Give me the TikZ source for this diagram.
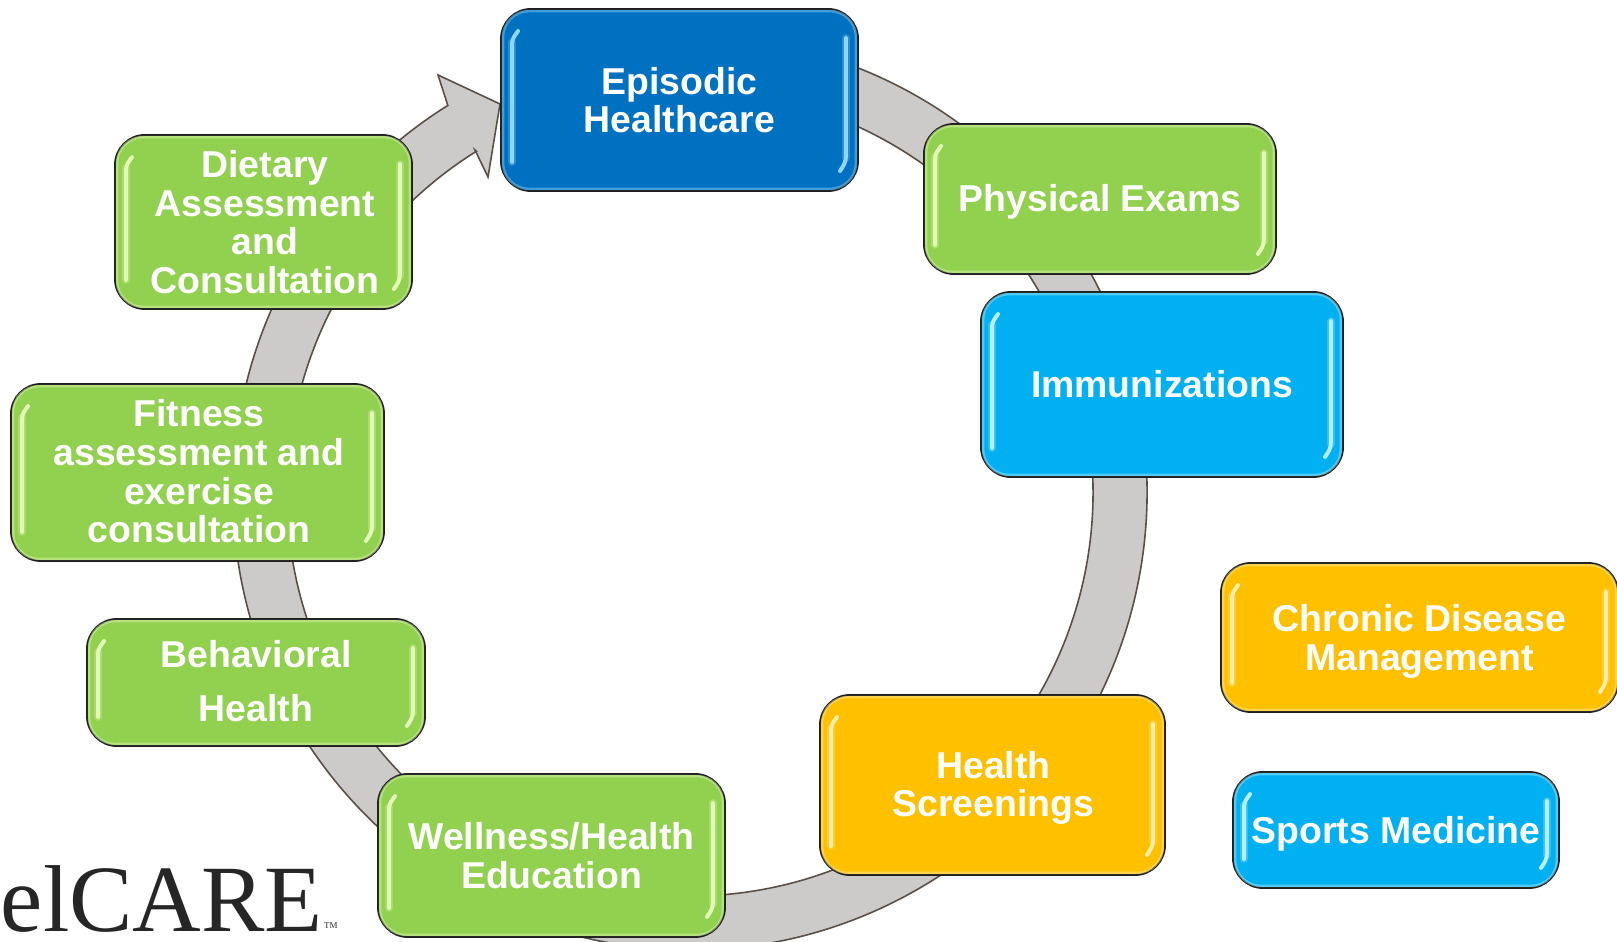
\documentclass[tikz,border=0pt]{standalone}
\usepackage{fontspec}
\setmainfont{Liberation Sans}
\newfontfamily\logofont{Liberation Serif}
\usetikzlibrary{calc}
\definecolor{ringfill}{HTML}{CDCBC9}
\definecolor{ringline}{HTML}{5A5048}
\definecolor{bluebox}{HTML}{0070C0}
\definecolor{bluelight}{HTML}{8FD6FF}
\definecolor{greenbox}{HTML}{92D050}
\definecolor{greenlight}{HTML}{E2F8B8}
\definecolor{cyanbox}{HTML}{00B0F0}
\definecolor{cyanlight}{HTML}{B4EEFF}
\definecolor{orangebox}{HTML}{FFC000}
\definecolor{orangelight}{HTML}{FFEDA8}
\tikzset{
  x=1pt,y=1pt,
  glossbox/.style={draw=black!88,line width=1.9pt,rounded corners=30pt,inner sep=0pt},
  glosstext/.style={align=center,text=white,inner sep=0pt,
    font=\fontsize{37.4}{38.6}\selectfont\bfseries},
  glossstrip/.style={line width=4pt,line cap=round},
  glosshalo/.style={line width=8pt,line cap=round,opacity=.28},
  bevel/.style={line width=2.5pt,rounded corners=26pt,opacity=.45},
  ringband/.style={fill=ringfill,draw=ringline,line width=1.6pt,line join=miter},
  logotext/.style={text=black!85,inner sep=0pt,font=\logofont\fontsize{95}{95}\selectfont},
  logomark/.style={text=black!82,inner sep=0pt,font=\logofont\fontsize{9}{9}\selectfont}
}
% #1 name, #2-#5 x1 y1 x2 y2 (image pixels, y down), #6 fill, #7 light, #8 text, #9 text offset
\newcommand{\glossnode}[9]{%
  \pgfmathsetmacro{\gcx}{(#2+#4)/2}%
  \pgfmathsetmacro{\gcy}{942-(#3+#5)/2}%
  \pgfmathsetmacro{\gw}{#4-#2}%
  \pgfmathsetmacro{\gh}{#5-#3}%
  \node[glossbox,fill=#6,minimum width=\gw pt,minimum height=\gh pt] (#1) at (\gcx,\gcy) {};
  \draw[bevel,draw=#7] ($(#1.south west)+(3,3)$) rectangle ($(#1.north east)+(-3,-3)$);
  \draw[glosshalo,draw=#7] ($(#1.south west)+(12,30)$) -- ($(#1.north west)+(12,-34)$);
  \draw[glosshalo,draw=#7] ($(#1.north east)+(-13,-30)$) -- ($(#1.south east)+(-13,34)$);
  \draw[glossstrip,draw=#7] ($(#1.south west)+(12,30)$) -- ($(#1.north west)+(12,-36)$)
     to[out=90,in=-125] ($(#1.north west)+(18,-23)$);
  \draw[glossstrip,draw=#7] ($(#1.north east)+(-13,-30)$) -- ($(#1.south east)+(-13,36)$)
     to[out=-90,in=55] ($(#1.south east)+(-19,21)$);
  \node[glosstext] (#1text) at ($(#1.center)+#9$) {#8};
}
\begin{document}
\begin{tikzpicture}
\useasboundingbox (0,0) rectangle (1617,942);
\clip (0,0) rectangle (1617,942);
\coordinate (ringc) at (690,449);
\coordinate (tip) at (500,838);
% ring with arrowhead
\draw[ringband] ($(ringc)+(80:457)$) arc[start angle=80,delta angle=-318,radius=457]
   -- (438,867) -- (tip) -- (488,765) -- (475,792)
   -- ($(ringc)+(122:403)$) arc[start angle=122,delta angle=318,radius=403] -- cycle;
% logo
\node[logotext,anchor=base east] (logo) at (323,10) {elCARE};
\node[logomark,anchor=base west] (tm) at (324,13) {TM};
% boxes
\glossnode{episodic}{501}{9}{858}{191}{bluebox}{bluelight}{Episodic\\Healthcare}{(0,0)}
\glossnode{physical}{924}{124}{1276}{274}{greenbox}{greenlight}{Physical Exams}{(0,-3)}
\glossnode{immun}{981}{292}{1343}{477}{cyanbox}{cyanlight}{Immunizations}{(0,0)}
\glossnode{chronic}{1221}{563}{1618}{712}{orangebox}{orangelight}{Chronic Disease\\Management}{(0,-4)}
\glossnode{sports}{1233}{772}{1559}{888}{cyanbox}{cyanlight}{Sports Medicine}{(0,-4)}
\glossnode{screen}{820}{695}{1165}{875}{orangebox}{orangelight}{Health\\Screenings}{(1,-3)}
\glossnode{wellness}{378}{774}{725}{937}{greenbox}{greenlight}{Wellness/Health\\Education}{(0,0)}
\glossnode{behav}{87}{619}{425}{746}{greenbox}{greenlight}{Behavioral\\[15.4pt]Health}{(0,1)}
\glossnode{fitness}{11}{384}{384}{561}{greenbox}{greenlight}{Fitness\\assessment and\\exercise\\consultation}{(1.5,1)}
\glossnode{dietary}{115}{135}{412}{309}{greenbox}{greenlight}{Dietary\\Assessment\\and\\Consultation}{(1.5,0)}
\end{tikzpicture}
\end{document}
